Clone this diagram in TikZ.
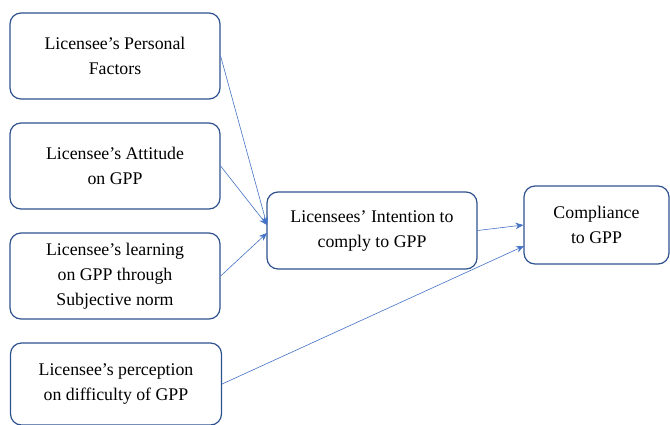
\documentclass[tikz,border=0pt]{standalone}
\usepackage{fontspec}
\setmainfont{Liberation Serif}
\usetikzlibrary{arrows.meta}
\definecolor{boxblue}{HTML}{2F528F}
\definecolor{linkblue}{HTML}{4472C4}
\begin{document}
\begin{tikzpicture}[x=1pt,y=-1pt,
  box/.style={draw=boxblue,line width=1.2pt,rounded corners=11pt,fill=white,
    align=center,inner sep=0pt,
    font=\fontsize{17.8}{25}\selectfont},
  link/.style={draw=linkblue,line width=0.6pt,-{Stealth[length=8pt,width=6.5pt]}}]
\useasboundingbox (0,0) rectangle (670,424);
\node[box,minimum width=210pt,minimum height=86pt] (a) at (115,56) {Licensee’s Personal\\Factors};
\node[box,minimum width=210pt,minimum height=86pt] (b) at (115,166) {Licensee’s Attitude\\on GPP};
\node[box,minimum width=210pt,minimum height=86pt] (c) at (115,276) {Licensee’s learning\\on GPP through\\Subjective norm};
\node[box,minimum width=211pt,minimum height=82pt] (d) at (116,384) {Licensee’s perception\\on difficulty of GPP};
\node[box,minimum width=210pt,minimum height=77pt] (i) at (372,230.5) {Licensees’ Intention to\\comply to GPP};
\node[box,minimum width=145pt,minimum height=78pt] (g) at (596.5,225) {Compliance\\to GPP};
\coordinate (t1) at (267,225);
\coordinate (t2) at (267,233);
\coordinate (t3) at (524,246);
\draw[link] (a.east) -- (t1);
\draw[link] (b.east) -- (t1);
\draw[link] (c.east) -- (t2);
\draw[link] (i.east) -- (g.west);
\draw[link] (d.east) -- (t3);
\end{tikzpicture}
\end{document}
